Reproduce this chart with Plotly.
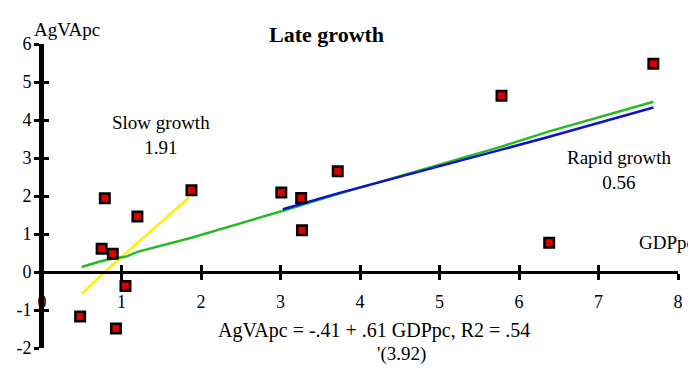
import plotly.graph_objects as go

# Data points (GDPpc, AgVApc)
gdp_pc = [0.48, 0.93, 1.05, 0.75, 0.89, 0.79, 1.20, 1.88, 3.01, 3.26, 3.27, 3.72, 5.78, 7.69, 6.38]
agva_pc = [-1.17, -1.49, -0.37, 0.61, 0.48, 1.94, 1.46, 2.15, 2.09, 1.95, 1.10, 2.65, 4.64, 5.48, 0.77]

# Slow growth fit (yellow)
slow_x = [0.50, 0.81, 0.92, 1.85]
slow_y = [-0.57, 0.03, 0.25, 1.96]

# Smoothed fit over all points (green)
smooth_x = [0.50, 0.75, 0.93, 1.05, 1.20, 1.88, 3.01, 3.26, 3.72, 5.78, 6.38, 7.69]
smooth_y = [0.13, 0.29, 0.37, 0.40, 0.53, 0.90, 1.60, 1.76, 2.05, 3.30, 3.70, 4.48]

# Rapid growth fit (blue)
rapid_x = [3.03, 3.26, 3.72, 5.78, 6.38, 7.69]
rapid_y = [1.65, 1.79, 2.07, 3.22, 3.56, 4.33]

x_ticks = [0, 1, 2, 3, 4, 5, 6, 7, 8]
x_tick_labels = ["0", "1", "2", "3", "4", "5", "6", "7", "8"]
y_ticks = [-2, -1, 0, 1, 2, 3, 4, 5, 6]
y_tick_labels = ["-2", "-1", "0", "1", "2", "3", "4", "5", "6"]

FONT = "Liberation Serif"

fig = go.Figure()
fig.add_trace(go.Scatter(x=slow_x, y=slow_y, mode="lines",
                         line=dict(color="#ffee00", width=2.5), showlegend=False))
fig.add_trace(go.Scatter(x=smooth_x, y=smooth_y, mode="lines",
                         line=dict(color="#22bb22", width=2.5), showlegend=False))
fig.add_trace(go.Scatter(x=rapid_x, y=rapid_y, mode="lines",
                         line=dict(color="#1010cc", width=2.5), showlegend=False))
fig.add_trace(go.Scatter(x=gdp_pc, y=agva_pc, mode="markers",
                         marker=dict(symbol="square", size=9.5, color="#dd0000",
                                     line=dict(color="black", width=2.5)),
                         showlegend=False))
# invisible trace so the overlay axes (inner half of the cross ticks) are drawn
fig.add_trace(go.Scatter(x=[None], y=[None], xaxis="x2", yaxis="y2",
                         mode="markers", showlegend=False, hoverinfo="skip"))

common = dict(showgrid=False, zeroline=False, showline=True, linecolor="#000000",
              linewidth=3, tickcolor="#000000", tickwidth=2.5)

fig.update_layout(
    width=688, height=376,
    margin=dict(l=34, r=18, t=36, b=36, autoexpand=False),
    plot_bgcolor="rgba(0,0,0,0)", paper_bgcolor="white",
    font=dict(family=FONT, size=19, color="black"),
    xaxis=dict(range=[0, 8], tickvals=x_ticks, ticktext=x_tick_labels,
               ticks="outside", ticklen=6,
               anchor="free", position=0.25, ticklabelstandoff=6,
               tickfont=dict(family=FONT, size=18), **common),
    yaxis=dict(range=[-2, 6], tickvals=y_ticks, ticktext=y_tick_labels,
               ticks="outside", ticklen=5,
               ticklabelstandoff=-1,
               tickfont=dict(family=FONT, size=18), **common),
    xaxis2=dict(range=[0, 8], tickvals=x_ticks, ticks="inside", ticklen=6,
                overlaying="x", anchor="free", position=0.25,
                showticklabels=False, **common),
    yaxis2=dict(range=[-2, 6], tickvals=y_ticks, ticks="inside", ticklen=5,
                overlaying="y", anchor="free", position=0,
                showticklabels=False, **common),
    annotations=[
        dict(text="<b>Late growth</b>", x=0.448, y=1.079, xref="paper", yref="paper",
             showarrow=False, font=dict(size=22)),
        dict(text="AgVApc", x=-0.0157, y=1.089, xref="paper", yref="paper",
             xanchor="left", showarrow=False),
        dict(text="GDPpc", x=7.49, y=0.78, xref="x", yref="y",
             xanchor="left", showarrow=False),
        dict(text="Slow growth<br>1.91", x=1.50, y=3.6, xref="x", yref="y",
             showarrow=False),
        dict(text="Rapid growth<br>0.56", x=7.26, y=2.68, xref="x", yref="y",
             showarrow=False),
        dict(text="AgVApc = -.41 + .61 GDPpc, R2 = .54", x=(216 - 42) / 636,
             y=(347.7 - 344) / 304, xref="paper", yref="paper",
             xanchor="left", showarrow=False, font=dict(size=20)),
        dict(text="'(3.92)", x=(375 - 42) / 636, y=(347.7 - 367) / 304,
             xref="paper", yref="paper", xanchor="left", showarrow=False),
    ],
)

fig.write_html("out.html")
